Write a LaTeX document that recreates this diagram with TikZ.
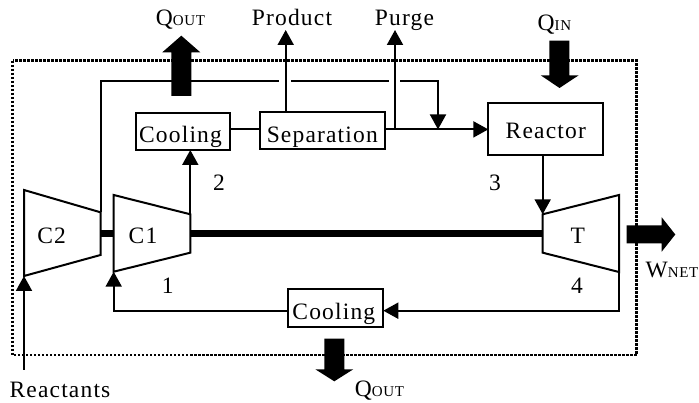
\documentclass[tikz,border=0pt]{standalone}
\usepackage{fontspec}
\setmainfont[LetterSpace=5]{Liberation Serif}
\usetikzlibrary{arrows.meta}
\newcommand{\subcap}[1]{{\fontsize{15}{15}\selectfont #1}}
\tikzset{
  line/.style={line width=2pt},
  flow/.style={line, -{Triangle[length=15pt,width=16pt]}, shorten >=0pt},
  txt/.style={anchor=base, inner sep=0pt, font=\fontsize{23.5}{25}\selectfont},
  box/.style={draw, line width=2pt, anchor=base, inner sep=0pt, outer sep=0pt, align=center, font=\fontsize{23.5}{25}\selectfont},
  mach/.style={line, line join=miter, fill=white},
  fat/.style={fill=black, draw=none},
  shaft/.style={line width=7pt},
  boundary/.style={line width=2.6pt, dash pattern=on 2.3pt off 1.7pt}
}
\begin{document}
\begin{tikzpicture}[x=1pt,y=-1pt]
\useasboundingbox (0,0) rectangle (699,403);
% boundary
\draw[boundary] (12.5,60.7) rectangle (636.7,355);
% machines
\coordinate (c2tl) at (24,190); \coordinate (c2tr) at (100.5,212.3);
\coordinate (c2br) at (100.5,255); \coordinate (c2bl) at (24,276);
\coordinate (c1tl) at (113.7,195); \coordinate (c1tr) at (190.3,214.3);
\coordinate (c1br) at (190.3,252.7); \coordinate (c1bl) at (113.7,271.7);
\coordinate (ttl) at (542.7,214.3); \coordinate (ttr) at (619,195);
\coordinate (tbr) at (619,272); \coordinate (tbl) at (542.7,252.7);
\draw[mach] (c2tl) -- (c2tr) -- (c2br) -- (c2bl) -- cycle;
\draw[mach] (c1tl) -- (c1tr) -- (c1br) -- (c1bl) -- cycle;
\draw[mach] (ttl) -- (ttr) -- (tbr) -- (tbl) -- cycle;
% shafts
\coordinate (sh) at (0,233.3);
\draw[shaft] (c2tr |- sh) -- (c1tl |- sh);
\draw[shaft] (c1tr |- sh) -- (ttl |- sh);
% boxes
\node[box, text width=94.6pt, text height=29.7pt, text depth=7.3pt] (cool1) at (183,142.7) {Cooling\hspace{5pt}\null};
\node[box, text width=125.3pt, text height=30.7pt, text depth=6.3pt] (sep) at (322.3,142.7) {Separation};
\node[box, text width=115pt, text height=35pt, text depth=16.7pt] (reac) at (545.8,138.3) {Reactor};
\node[box, text width=95pt, text height=30.7pt, text depth=7.3pt] (cool2) at (335.8,320) {Cooling\hspace{4pt}\null};
% free ends and junctions
\coordinate (mid) at (0,129.4);
\coordinate (prodend) at (285.7,30);
\coordinate (purgeend) at (395,30);
\coordinate (purgej) at (395,129.4);
\coordinate (mixj) at (438,129.4);
\coordinate (rectop) at (100.5,81.5);
\coordinate (bot) at (0,310.7);
\coordinate (reactin) at (24,370);
% connectors
\draw[line] (cool1.east |- mid) -- (sep.west |- mid);
\draw[flow] (sep.east |- mid) -- (reac.west |- mid);
\draw[flow] (sep.north -| prodend) -- (prodend);
\draw[flow] (purgej) -- (purgeend);
\draw[flow] (c1tr) -- (cool1.south -| c1tr);
\draw[flow] (reac.south -| ttl) -- (ttl);
\draw[line] (c2tr) -- (rectop) -- (279,81.5);
\draw[line] (291,81.5) -- (389,81.5);
\draw[flow] (400,81.5) -| (mixj);
\draw[flow] (tbr) |- (cool2.east |- bot);
\draw[flow] (cool2.west |- bot) -| (c1bl);
\draw[flow] (reactin) -- (c2bl);
% heat and work arrows
\draw[fat] (171.3,96) -- (171.3,52.3) -- (162.3,52.3) -- (181.3,35.7) -- (200.3,52.3) -- (191.3,52.3) -- (191.3,96) -- cycle;
\draw[fat] (549.3,40.7) -- (549.3,75.3) -- (540.7,75.3) -- (559.5,88) -- (578.7,75.3) -- (569.3,75.3) -- (569.3,40.7) -- cycle;
\draw[fat] (324.3,338.7) -- (324.3,369.3) -- (315.3,369.3) -- (334.3,381.3) -- (353.3,369.3) -- (344.3,369.3) -- (344.3,338.7) -- cycle;
\draw[fat] (626.7,225.3) -- (661.7,225.3) -- (661.7,217.3) -- (675.3,234.5) -- (661.7,251.7) -- (661.7,243.3) -- (626.7,243.3) -- cycle;
% labels
\node[txt] (qout1) at (180.5,26) {Q\subcap{OUT}};
\node[txt] (prod) at (292,26) {Product};
\node[txt] (purge) at (404.5,26) {Purge};
\node[txt] (qin) at (554.5,30.7) {Q\subcap{IN}};
\node[txt] (n2) at (219,191) {2};
\node[txt] (n3) at (495,190.7) {3};
\node[txt] (n1) at (167.7,294) {1};
\node[txt] (n4) at (577,294) {4};
\node[txt] (c2) at (51.7,244) {C2};
\node[txt] (c1) at (143,244) {C1};
\node[txt] (t) at (577.7,244) {T};
\node[txt] (wnet) at (672,277.7) {W\subcap{NET}};
\node[txt] (qout2) at (379.5,396.7) {Q\subcap{OUT}};
\node[txt] (react) at (60,397) {Reactants};
\end{tikzpicture}
\end{document}
